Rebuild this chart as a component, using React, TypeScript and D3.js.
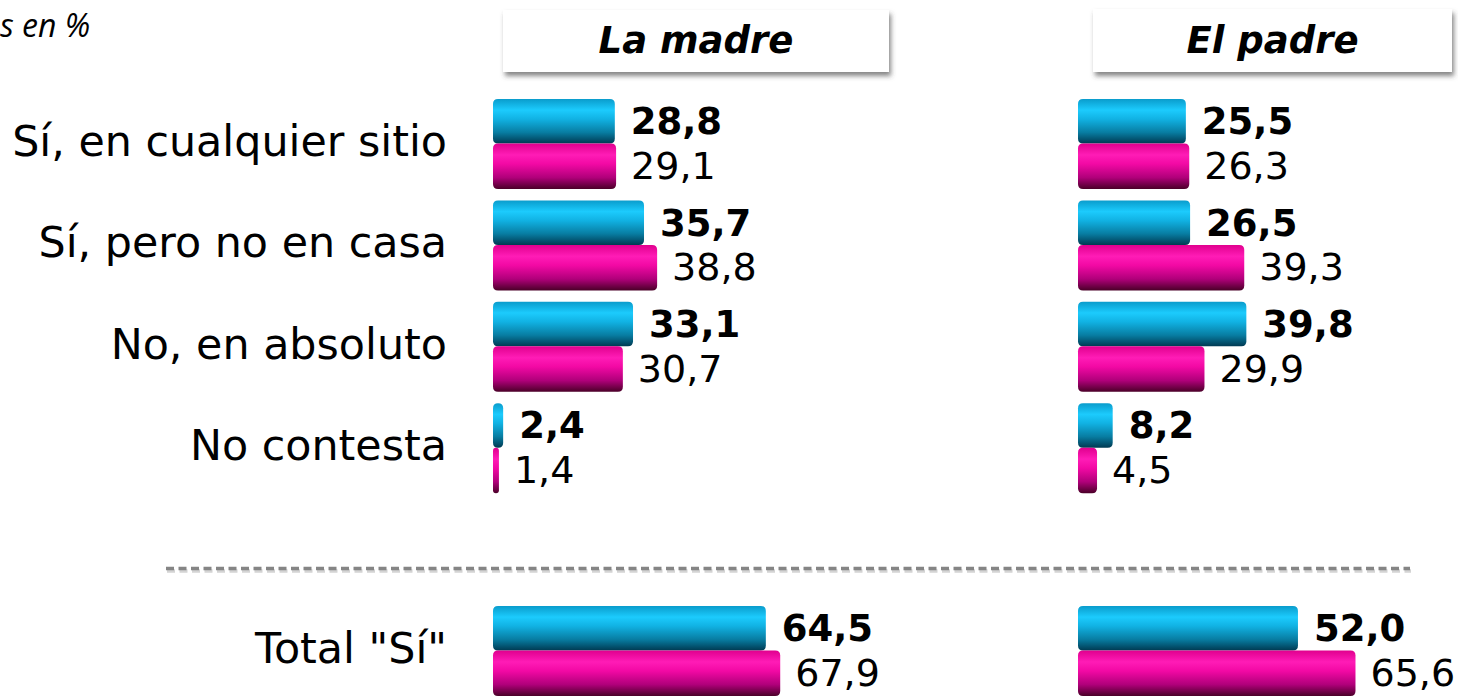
import React from "react";
import * as d3 from "d3";

const categories = ["Sí, en cualquier sitio", "Sí, pero no en casa", "No, en absoluto", "No contesta", "Total \"Sí\""];
const panels = ["La madre", "El padre"];
const madreBlue = [28.8, 35.7, 33.1, 2.4, 64.5];
const madrePink = [29.1, 38.8, 30.7, 1.4, 67.9];
const padreBlue = [25.5, 26.5, 39.8, 8.2, 52.0];
const padrePink = [26.3, 39.3, 29.9, 4.5, 65.6];
const subtitle = "s en %";

const fmt = (v: number) => v.toFixed(1).replace(".", ",");

const W = 1458, H = 696;

export default function App() {
  const slot = (i: number) => (i < 4 ? i : i + 1); // total row separated by a gap
  const y = d3.scaleLinear().domain([0, 5]).range([99, 606]);
  const barH = 44.5;
  const xL = d3.scaleLinear().domain([0, 100]).range([493, 916]);
  const xR = d3.scaleLinear().domain([0, 100]).range([1078, 1501]);
  const panelDefs = [
    { name: panels[0], x: xL, blue: madreBlue, pink: madrePink, box: [503, 10, 386, 62] },
    { name: panels[1], x: xR, blue: padreBlue, pink: padrePink, box: [1093, 9, 359, 63] },
  ];

  const barPath = (x0: number, x1: number, y0: number, h: number) => {
    const w = Math.max(x1 - x0, 1);
    const r = Math.min(5, w / 2);
    return `M${x0 + r},${y0} H${x0 + w - r} Q${x0 + w},${y0} ${x0 + w},${y0 + r} V${y0 + h - r} Q${x0 + w},${y0 + h} ${x0 + w - r},${y0 + h} H${x0 + r} Q${x0},${y0 + h} ${x0},${y0 + h - r} V${y0 + r} Q${x0},${y0} ${x0 + r},${y0} Z`;
  };

  return (
    <svg width={W} height={H} style={{ position: "absolute", left: 0, top: 0, background: "#fff" }}
      fontFamily="'DejaVu Sans', Verdana, sans-serif">
      <defs>
        <linearGradient id="gBlue" x1="0" y1="0" x2="0" y2="1">
          <stop offset="0%" stopColor="#0a9ccc" />
          <stop offset="25%" stopColor="#1ccbfd" />
          <stop offset="45%" stopColor="#11b2e3" />
          <stop offset="75%" stopColor="#087da2" />
          <stop offset="100%" stopColor="#003a52" />
        </linearGradient>
        <linearGradient id="gPink" x1="0" y1="0" x2="0" y2="1">
          <stop offset="0%" stopColor="#e0008e" />
          <stop offset="25%" stopColor="#ff1cb6" />
          <stop offset="45%" stopColor="#f209a4" />
          <stop offset="75%" stopColor="#b0007a" />
          <stop offset="100%" stopColor="#4a0028" />
        </linearGradient>
        <filter id="shadow" x="-10%" y="-20%" width="125%" height="160%">
          <feDropShadow dx="2" dy="4" stdDeviation="2.5" floodColor="#444" floodOpacity="0.65" />
        </filter>
      </defs>

      <text x={0} y={37} fontFamily="'Open Sans', sans-serif" fontStyle="italic" fontSize={32} fill="#000">
        {subtitle}
      </text>

      {categories.map((c, i) => (
        <text key={c} x={447} y={y(slot(i)) + barH + 12.5} textAnchor="end" fontSize={42.8} fill="#000">
          {c}
        </text>
      ))}

      <line x1={167} x2={1411} y1={571} y2={571} stroke="#d4d4d4" strokeWidth={3.5}
        strokeDasharray="8 4.5" />
      <line x1={166} x2={1410} y1={568.5} y2={568.5} stroke="#858585" strokeWidth={3.5}
        strokeDasharray="8 4.5" />

      {panelDefs.map((p) => (
        <g key={p.name}>
          <rect x={p.box[0]} y={p.box[1]} width={p.box[2]} height={p.box[3]} fill="#fff"
            filter="url(#shadow)" />
          <text x={p.box[0] + p.box[2] / 2} y={53} textAnchor="middle" fontSize={37}
            fontWeight="bold" fontStyle="italic" fill="#000">{p.name}</text>
          {categories.map((c, i) => {
            const y0 = y(slot(i));
            const x0 = p.x(0);
            const xb = p.x(p.blue[i]);
            const xp = p.x(p.pink[i]);
            return (
              <g key={c}>
                <path d={barPath(x0, xb, y0, barH)} fill="url(#gBlue)" />
                <path d={barPath(x0, xp, y0 + barH, barH + 1)} fill="url(#gPink)" />
                <text x={xb + 16} y={y0 + barH / 2 + 13} fontSize={37} fontWeight="bold" fill="#000">
                  {fmt(p.blue[i])}
                </text>
                <text x={xp + 15} y={y0 + barH * 1.5 + 13} fontSize={38} fill="#000">
                  {fmt(p.pink[i])}
                </text>
              </g>
            );
          })}
        </g>
      ))}
    </svg>
  );
}
